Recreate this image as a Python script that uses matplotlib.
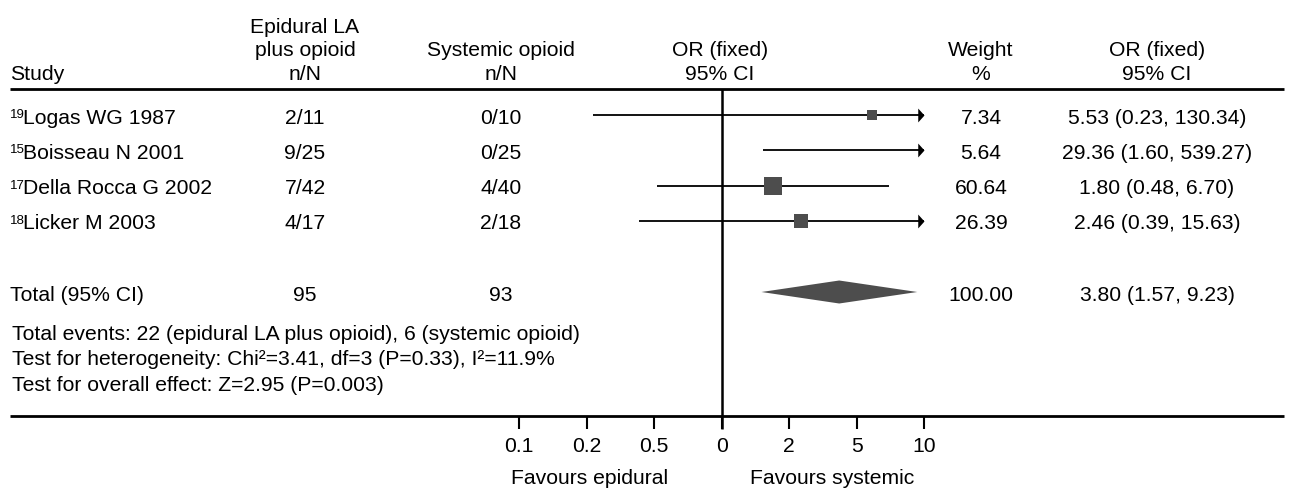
import numpy as np
import matplotlib
matplotlib.use("Agg")
import matplotlib.pyplot as plt
from matplotlib.patches import Polygon
from matplotlib.ticker import NullLocator

plt.rcParams['font.family'] = ['Liberation Sans', 'DejaVu Sans']

# ---- data -------------------------------------------------------------
studies = ["Logas WG 1987", "Boisseau N 2001", "Della Rocca G 2002", "Licker M 2003"]
refs = ["19", "15", "17", "18"]
epidural_nN = ["2/11", "9/25", "7/42", "4/17"]
systemic_nN = ["0/10", "0/25", "4/40", "2/18"]
weights = [7.34, 5.64, 60.64, 26.39]
or_est = [5.53, 29.36, 1.80, 2.46]
ci_low = [0.23, 1.60, 0.48, 0.39]
ci_high = [130.34, 539.27, 6.70, 15.63]

total_epidural = 95
total_systemic = 93
total_weight = 100.00
total_or, total_low, total_high = 3.80, 1.57, 9.23

footnotes = [
    "Total events: 22 (epidural LA plus opioid), 6 (systemic opioid)",
    "Test for heterogeneity: Chi\u00b2=3.41, df=3 (P=0.33), I\u00b2=11.9%",
    "Test for overall effect: Z=2.95 (P=0.003)",
]

tick_labels = ["0.1", "0.2", "0.5", "0", "2", "5", "10"]
x_min, x_max = 0.1, 10.0

# ---- layout (pixel coordinates, y measured from top) -------------------
W_PX, H_PX = 1291, 489
FS = 15.2            # main font size in points
CAP = 7.6            # half cap-height in pixels for FS
SQ_GRAY = "#4d4d4d"

col_study = 10
col_epi = 305
col_sys = 501
col_plot_hdr = 720
col_weight = 981
col_or = 1157

hdr_rows = [25, 48.5, 72]
rule_top = 90
rule_bottom = 417
row0, row_step = 116, 35.3
row_total = 293
foot_rows = [332, 357.5, 383]

plot_left, plot_right = 519.3, 924.3

fig = plt.figure(figsize=(W_PX / 100, H_PX / 100), dpi=100)
tab = fig.add_axes([0, 0, 1, 1])
tab.set_xlim(0, W_PX)
tab.set_ylim(H_PX, 0)
tab.axis("off")


def put(x, yc, s, ha="center", size=FS, **kw):
    tab.text(x, yc + CAP * size / FS, s, ha=ha, va="baseline",
             fontsize=size, color="black", **kw)


# column headers
put(col_study, hdr_rows[2], "Study", ha="left")
put(col_epi, hdr_rows[0], "Epidural LA")
put(col_epi, hdr_rows[1], "plus opioid")
put(col_epi, hdr_rows[2], "n/N")
put(col_sys, hdr_rows[1], "Systemic opioid")
put(col_sys, hdr_rows[2], "n/N")
put(col_plot_hdr, hdr_rows[1], "OR (fixed)")
put(col_plot_hdr, hdr_rows[2], "95% CI")
put(col_weight, hdr_rows[1], "Weight")
put(col_weight, hdr_rows[2], "%")
put(col_or, hdr_rows[1], "OR (fixed)")
put(col_or, hdr_rows[2], "95% CI")

tab.plot([10, 1284], [rule_top, rule_top], color="black", lw=2.0,
         solid_capstyle="butt")
tab.plot([10, 1284], [rule_bottom, rule_bottom], color="black", lw=2.0,
         solid_capstyle="butt")

row_y = [row0 + i * row_step for i in range(len(studies))]

for y, name, ref, e, s, w, o, lo, hi in zip(row_y, studies, refs, epidural_nN,
                                            systemic_nN, weights, or_est,
                                            ci_low, ci_high):
    tab.text(col_study, y + 2.0, ref, ha="left", va="baseline", fontsize=9.5)
    put(col_study + 13, y, name, ha="left")
    put(col_epi, y, e)
    put(col_sys, y, s)
    put(col_weight, y, f"{w:.2f}")
    put(col_or, y, f"{o:.2f} ({lo:.2f}, {hi:.2f})")

put(col_study, row_total, "Total (95% CI)", ha="left")
put(col_epi, row_total, f"{total_epidural}")
put(col_sys, row_total, f"{total_systemic}")
put(col_weight, row_total, f"{total_weight:.2f}")
put(col_or, row_total, f"{total_or:.2f} ({total_low:.2f}, {total_high:.2f})")

for y, txt in zip(foot_rows, footnotes):
    put(12, y, txt, ha="left")

put(590, 476, "Favours epidural")
put(832, 476, "Favours systemic")

# ---- forest plot ------------------------------------------------------
fa = fig.add_axes([plot_left / W_PX, (H_PX - rule_bottom) / H_PX,
                   (plot_right - plot_left) / W_PX,
                   (rule_bottom - rule_top) / H_PX])
fa.set_xscale("log")
fa.set_xlim(x_min, x_max)
fa.set_ylim(rule_bottom, rule_top)
fa.patch.set_visible(False)
for sp in fa.spines.values():
    sp.set_visible(False)
fa.set_yticks([])
tick_pos = 10.0 ** (np.arange(-3, 4) / 3.0)
fa.set_xticks(tick_pos)
fa.set_xticklabels(tick_labels)
fa.xaxis.set_minor_locator(NullLocator())
fa.tick_params(axis="x", direction="out", length=9.4, width=1.5, pad=5,
               labelsize=FS, colors="black")

# line of no effect
fa.plot([1, 1], [rule_top, 430], color="black", lw=1.8, clip_on=False,
        solid_capstyle="butt")

arrow_right = [(0, 0), (-0.9, 1), (-0.9, -1), (0, 0)]
arrow_left = [(0, 0), (0.9, 1), (0.9, -1), (0, 0)]

for y, w, o, lo, hi in zip(row_y, weights, or_est, ci_low, ci_high):
    a, b = max(lo, x_min), min(hi, x_max)
    fa.plot([a, b], [y, y], color="black", lw=1.3, solid_capstyle="butt",
            clip_on=False)
    if hi > x_max:
        fa.plot([x_max], [y], marker=arrow_right, ms=10, color="black",
                mew=0, clip_on=False)
    if lo < x_min:
        fa.plot([x_min], [y], marker=arrow_left, ms=10, color="black",
                mew=0, clip_on=False)
    if x_min <= o <= x_max:
        side_px = 6.1 + 1.44 * np.sqrt(w)
        fa.plot([o], [y], marker="s", ms=side_px * 0.72, color=SQ_GRAY,
                mew=0, zorder=3)

# pooled estimate
half_h = 11.5
fa.add_patch(Polygon([(total_low, row_total), (total_or, row_total - half_h),
                      (total_high, row_total), (total_or, row_total + half_h)],
                     closed=True, facecolor=SQ_GRAY, edgecolor="none"))

fig.savefig("out.png", dpi=100)
